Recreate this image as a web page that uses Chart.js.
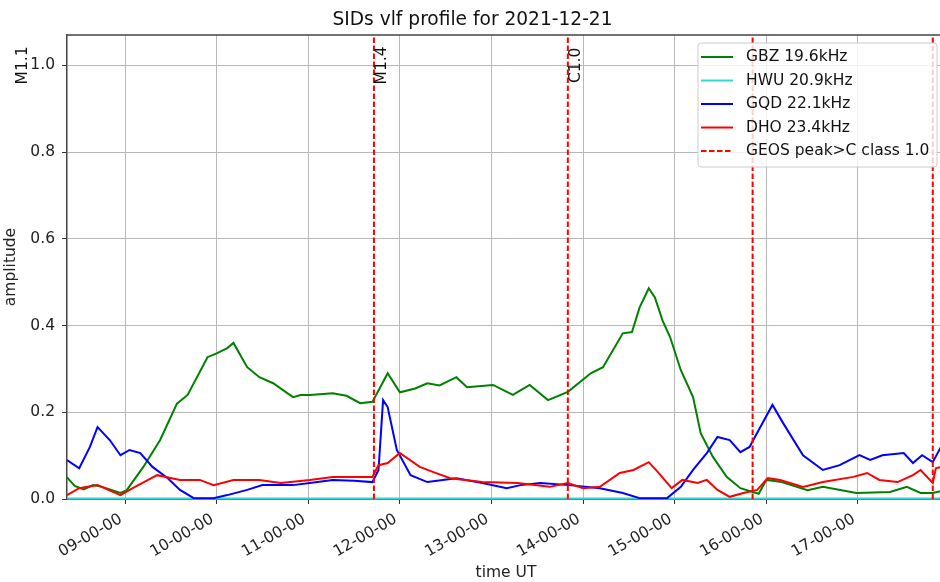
<!DOCTYPE html>
<html>
<head>
<meta charset="utf-8">
<script src="https://cdn.jsdelivr.net/npm/chart.js@4.4.0/dist/chart.umd.min.js"></script>
<style>
  html, body { margin: 0; padding: 0; background: #fff; overflow: hidden; }
</style>
</head>
<body>
<canvas id="sidChart" width="1012" height="582"></canvas>
<script>
// GBZ 19.6kHz
const gbzTimes = ["08:22","08:27","08:33","08:39","08:45","08:57","09:01","09:12","09:23","09:34","09:41","09:54","10:00","10:07","10:11","10:20","10:28","10:37","10:50","10:55","11:01","11:16","11:25","11:34","11:42","11:46","11:52","12:00","12:10","12:18","12:26","12:37","12:44","13:01","13:14","13:25","13:37","13:50","14:05","14:13","14:26","14:32","14:37","14:43","14:47","14:52","14:57","15:04","15:12","15:17","15:25","15:34","15:43","15:51","15:55","16:00","16:09","16:27","16:37","16:59","17:21","17:32","17:41","17:49","17:57"];
const gbz = [0.05,0.03,0.022,0.032,0.028,0.014,0.02,0.074,0.136,0.22,0.24,0.327,0.336,0.348,0.36,0.304,0.281,0.267,0.235,0.24,0.24,0.244,0.238,0.221,0.224,0.25,0.29,0.246,0.255,0.267,0.262,0.281,0.258,0.263,0.24,0.263,0.228,0.247,0.29,0.304,0.382,0.385,0.442,0.486,0.465,0.412,0.373,0.297,0.235,0.152,0.097,0.051,0.025,0.016,0.012,0.044,0.04,0.02,0.028,0.014,0.016,0.028,0.014,0.014,0.02];

// HWU 20.9kHz
const hwuTimes = ["08:22","10:00","12:00","14:00","16:00","17:57"];
const hwu = [0.001,0.001,0.001,0.001,0.001,0.001];

// GQD 22.1kHz
const gqdTimes = ["08:22","08:30","08:37","08:42","08:50","08:57","09:03","09:10","09:18","09:28","09:36","09:45","09:58","10:07","10:20","10:30","10:50","11:01","11:16","11:30","11:42","11:46","11:49","11:52","11:58","12:07","12:18","12:37","12:54","13:10","13:19","13:32","13:51","14:11","14:26","14:37","14:55","15:04","15:12","15:21","15:28","15:36","15:43","15:49","15:55","16:04","16:11","16:24","16:37","16:48","17:01","17:08","17:16","17:30","17:36","17:42","17:49","17:54","17:57"];
const gqd = [0.09,0.071,0.12,0.166,0.136,0.101,0.113,0.106,0.074,0.048,0.021,0.002,0.002,0.009,0.021,0.032,0.032,0.037,0.044,0.042,0.039,0.067,0.228,0.212,0.113,0.055,0.039,0.048,0.037,0.025,0.032,0.037,0.032,0.025,0.014,0.002,0.002,0.028,0.067,0.106,0.143,0.136,0.108,0.12,0.159,0.217,0.175,0.101,0.067,0.078,0.101,0.09,0.101,0.106,0.083,0.101,0.085,0.118,0.12];

// DHO 23.4kHz
const dhoTimes = ["08:22","08:30","08:42","08:57","09:05","09:21","09:36","09:49","09:58","10:11","10:28","10:42","11:01","11:16","11:42","11:46","11:52","12:00","12:13","12:22","12:33","12:54","13:17","13:38","13:50","14:00","14:11","14:24","14:33","14:43","14:49","14:58","15:05","15:15","15:21","15:28","15:36","15:45","15:54","16:01","16:09","16:24","16:37","16:57","17:06","17:14","17:26","17:36","17:41","17:49","17:51","17:57"];
const dho = [0.009,0.025,0.032,0.009,0.025,0.055,0.044,0.044,0.032,0.044,0.044,0.037,0.044,0.051,0.051,0.078,0.083,0.106,0.074,0.062,0.048,0.039,0.037,0.028,0.037,0.025,0.028,0.06,0.067,0.085,0.062,0.025,0.044,0.037,0.044,0.021,0.005,0.014,0.021,0.048,0.044,0.028,0.039,0.051,0.06,0.044,0.039,0.055,0.067,0.037,0.071,0.076];

// GEOS flares (peak time, class)
const flareTimes = ["07:48","11:43","13:50","15:51","17:49"];
const flareClasses = ["M1.1","M1.4","C1.0","",""];

// axes
const xTicks = [9, 10, 11, 12, 13, 14, 15, 16, 17];
const yTicks = [0, 0.2, 0.4, 0.6, 0.8, 1.0];
const xMin = "08:22", xMax = "17:57";
const yMin = 0, yMax = 1.07;

const toHours = s => { const [h, m] = s.split(":").map(Number); return h + m / 60; };
const pts = (times, vals) => times.map((t, i) => ({ x: toHours(t), y: vals[i] }));

const flarePts = flareTimes.flatMap(t => [
  { x: toHours(t), y: yMin },
  { x: toHours(t), y: yMax },
  { x: toHours(t), y: null }
]);

const FONT = "DejaVu Sans";
Chart.defaults.font.family = FONT;
Chart.defaults.font.size = 15.5;
Chart.defaults.color = "#222";

// frame top line + flare labels
const framePlugin = {
  id: "frame",
  afterDatasetsDraw(chart) {
    const { ctx, chartArea, scales } = chart;
    ctx.save();
    ctx.strokeStyle = "#444";
    ctx.lineWidth = 1.5;
    ctx.beginPath();
    ctx.moveTo(chartArea.left, chartArea.top);
    ctx.lineTo(chartArea.right, chartArea.top);
    ctx.lineTo(chartArea.right, chartArea.bottom);
    ctx.stroke();

    ctx.fillStyle = "#111";
    ctx.font = "15.5px '" + FONT + "'";
    ctx.textAlign = "center";
    ctx.textBaseline = "middle";
    flareTimes.forEach((t, i) => {
      if (!flareClasses[i]) return;
      const x = scales.x.getPixelForValue(toHours(t)) + 8;
      const y = scales.y.getPixelForValue(1.0);
      ctx.save();
      ctx.translate(x, y);
      ctx.rotate(-Math.PI / 2);
      ctx.fillText(flareClasses[i], 0, 0);
      ctx.restore();
    });
    ctx.restore();
  }
};

// matplotlib style legend in upper right
const legendPlugin = {
  id: "mplLegend",
  afterDraw(chart) {
    const { ctx, chartArea } = chart;
    const sets = chart.data.datasets;
    const w = 239, rowH = 23.5;
    const h = 14 + rowH * (sets.length - 1) + 16;
    const left = chartArea.right - 8 - w;
    const top = chartArea.top + 8;
    ctx.save();
    ctx.beginPath();
    ctx.roundRect(left, top, w, h, 3);
    ctx.fillStyle = "rgba(255,255,255,0.8)";
    ctx.fill();
    ctx.strokeStyle = "#cccccc";
    ctx.lineWidth = 1;
    ctx.stroke();
    ctx.font = "15.5px '" + FONT + "'";
    ctx.textBaseline = "middle";
    ctx.textAlign = "left";
    sets.forEach((ds, i) => {
      const y = top + 14 + i * rowH;
      ctx.strokeStyle = ds.borderColor;
      ctx.lineWidth = ds.borderWidth;
      ctx.setLineDash(ds.borderDash || []);
      ctx.beginPath();
      ctx.moveTo(left + 3, y);
      ctx.lineTo(left + 35, y);
      ctx.stroke();
      ctx.setLineDash([]);
      ctx.fillStyle = "#111";
      ctx.fillText(ds.label, left + 48, y);
    });
    ctx.restore();
  }
};

const line = (label, data, color, order) => ({
  label, data, borderColor: color, backgroundColor: color,
  borderWidth: 2, pointRadius: 0, tension: 0, order
});

new Chart(document.getElementById("sidChart"), {
  type: "line",
  data: {
    datasets: [
      line("GBZ 19.6kHz", pts(gbzTimes, gbz), "#008000", 5),
      line("HWU 20.9kHz", pts(hwuTimes, hwu), "#30d8d0", 4),
      line("GQD 22.1kHz", pts(gqdTimes, gqd), "#0000ff", 3),
      line("DHO 23.4kHz", pts(dhoTimes, dho), "#ff0000", 2),
      Object.assign(line("GEOS peak>C class 1.0", flarePts, "#ff0000", 1), {
        borderDash: [5.5, 2.5], borderWidth: 2, spanGaps: false
      })
    ]
  },
  options: {
    responsive: false,
    animation: false,
    events: [],
    layout: { padding: { left: 0, right: 67, top: 0, bottom: 0 } },
    plugins: {
      legend: { display: false },
      tooltip: { enabled: false },
      title: {
        display: true,
        text: "SIDs vlf profile for 2021-12-21",
        color: "#111",
        font: { size: 18.6, weight: "normal" },
        padding: { top: 9.5, bottom: 3.2 }
      }
    },
    scales: {
      x: {
        type: "linear",
        min: toHours(xMin),
        max: toHours(xMax),
        afterBuildTicks: s => { s.ticks = xTicks.map(v => ({ value: v })); },
        afterFit: s => { s.height = 83; },
        ticks: {
          minRotation: 30,
          maxRotation: 30,
          padding: 6,
          labelOffset: -4,
          callback: v => String(v).padStart(2, "0") + "-00-00"
        },
        grid: { color: "#b8b8b8", lineWidth: 1, tickLength: 5, tickColor: "#333" },
        border: { color: "#444", width: 1.5 },
        title: { display: true, text: "time UT", padding: { top: 0, bottom: 0 } }
      },
      y: {
        min: yMin,
        max: yMax,
        afterBuildTicks: s => { s.ticks = yTicks.map(v => ({ value: v })); },
        afterFit: s => { s.width = 67; },
        ticks: { padding: 7, callback: v => v.toFixed(1) },
        grid: { color: "#b8b8b8", lineWidth: 1, tickLength: 5, tickColor: "#333" },
        border: { color: "#444", width: 1.5 },
        title: { display: true, text: "amplitude", padding: { top: 1.2, bottom: 0 } }
      }
    }
  },
  plugins: [framePlugin, legendPlugin]
});
</script>
</body>
</html>
